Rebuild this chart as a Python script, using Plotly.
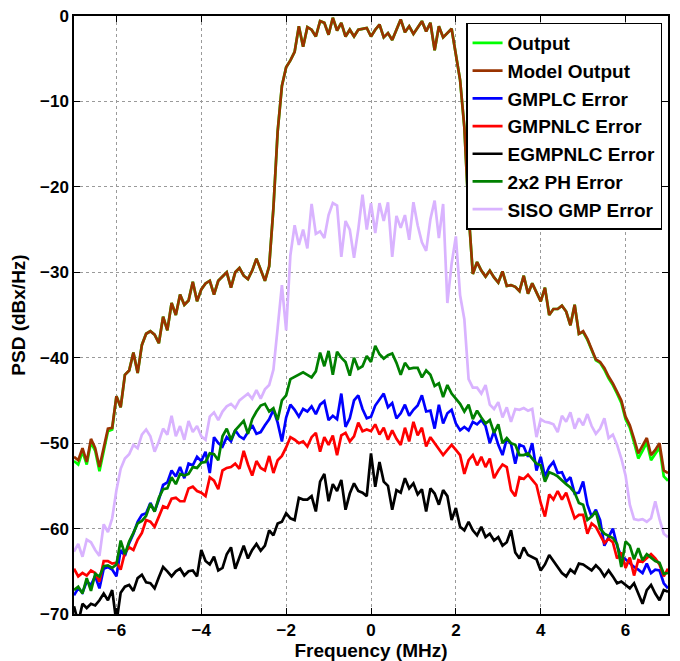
import numpy as np
import plotly.graph_objects as go

FREQ = np.round(np.linspace(-7, 7, 141), 2)

OUTPUT = [
    -52.1, -52.5, -51.0, -52.5, -49.9, -50.9, -53.3, -51.0, -48.6, -48.4,
    -44.5, -45.8, -42.0, -41.5, -39.4, -41.8, -38.5, -37.2, -36.9, -37.3,
    -38.3, -35.2, -36.8, -33.6, -35.0, -32.6, -33.8, -33.3, -31.1, -33.4,
    -32.0, -31.3, -31.0, -32.6, -31.0, -30.5, -30.0, -31.8, -30.0, -29.5,
    -30.4, -30.8, -29.8, -28.4, -29.7, -31.0, -29.3, -22.5, -13.5, -8.2,
    -6.0, -5.2, -4.2, -1.2, -3.6, -1.3, -1.6, -2.4, -0.6, -0.8,
    -2.2, -0.2, -1.7, -0.8, -2.4, -1.6, -2.4, -1.6, -1.5, -1.4,
    -2.4, -1.6, -1.0, -2.5, -2.0, -2.8, -1.6, -0.4, -1.9, -1.2,
    -2.1, -1.3, -0.6, -1.8, -0.8, -4.0, -1.2, -2.5, -2.0, -1.5,
    -4.5, -7.5, -13.0, -23.0, -30.2, -28.8, -29.8, -30.5, -29.8, -30.6,
    -31.2, -29.9, -31.6, -31.5, -31.7, -32.2, -30.4, -32.5, -31.3, -32.4,
    -33.4, -31.8, -35.0, -34.3, -34.3, -33.9, -34.6, -36.2, -33.8, -37.2,
    -37.0, -37.9, -39.0, -40.3, -40.6, -41.4, -42.4, -43.2, -44.2, -45.3,
    -47.2, -48.2, -49.9, -51.8, -50.9, -49.9, -52.0, -51.2, -50.5, -53.9,
    -54.4,
]

MODEL_OUTPUT = [
    -51.6, -52.0, -50.6, -52.2, -49.5, -50.6, -52.8, -50.6, -48.3, -48.2,
    -44.5, -45.8, -42.0, -41.5, -39.4, -41.8, -38.5, -37.2, -36.9, -37.3,
    -38.3, -35.2, -36.8, -33.6, -35.0, -32.6, -33.8, -33.3, -31.1, -33.4,
    -32.0, -31.3, -31.0, -32.6, -31.0, -30.5, -30.0, -31.8, -30.0, -29.5,
    -30.4, -30.8, -29.8, -28.4, -29.7, -31.0, -29.3, -22.5, -13.5, -8.2,
    -6.0, -5.2, -4.2, -1.2, -3.6, -1.3, -1.6, -2.4, -0.6, -0.8,
    -2.2, -0.2, -1.7, -0.8, -2.4, -1.6, -2.4, -1.6, -1.5, -1.4,
    -2.4, -1.6, -1.0, -2.5, -2.0, -2.8, -1.6, -0.4, -1.9, -1.2,
    -2.1, -1.3, -0.6, -1.8, -0.8, -4.0, -1.2, -2.5, -2.0, -1.5,
    -4.5, -7.5, -13.0, -23.0, -30.2, -28.8, -29.8, -30.5, -29.8, -30.6,
    -31.2, -29.9, -31.6, -31.5, -31.7, -32.2, -30.4, -32.5, -31.3, -32.4,
    -33.4, -31.8, -35.0, -34.3, -34.3, -33.9, -34.6, -36.2, -33.8, -37.2,
    -36.9, -37.8, -38.9, -40.2, -40.5, -41.2, -42.2, -43.0, -44.0, -45.0,
    -46.9, -47.9, -49.5, -51.2, -50.3, -49.4, -51.4, -50.8, -50.0, -53.2,
    -53.5,
]

GMPLC_ERR = [
    -67.8, -67.0, -67.5, -66.2, -66.6, -65.6, -67.0, -64.7, -64.5, -64.8,
    -65.6, -62.5, -63.2, -61.7, -60.6, -59.2, -58.4, -58.2, -57.0, -58.0,
    -56.6, -54.9, -54.6, -53.2, -53.9, -52.8, -54.1, -52.4, -52.6, -51.6,
    -52.1, -51.0, -53.5, -49.3, -50.0, -50.4, -49.3, -49.8, -48.5, -49.2,
    -49.5, -48.7, -47.9, -48.9, -48.7, -47.9, -47.2, -46.1, -47.6, -49.8,
    -47.0, -45.5, -46.1, -46.9, -46.0, -46.3, -45.7, -46.6, -45.5, -45.1,
    -47.3, -46.8, -47.2, -44.2, -48.1, -47.1, -45.0, -44.4, -46.0, -47.1,
    -46.9, -45.6, -44.9, -44.2, -45.8, -45.3, -47.1, -46.5, -45.5, -46.8,
    -46.1, -45.6, -44.4, -46.3, -46.2, -48.3, -45.5, -47.7, -46.5, -46.1,
    -47.7, -48.5, -48.1, -48.5, -47.5, -47.8, -47.3, -48.0, -50.0, -48.6,
    -50.2, -51.4, -49.5, -50.1, -52.4, -50.2, -50.4, -51.6, -50.0, -53.2,
    -51.6, -53.9, -52.8, -52.2, -53.5, -53.4, -54.5, -54.0, -55.9, -55.8,
    -54.5, -57.2, -58.6, -57.8, -59.0, -62.0, -61.0, -60.0, -62.0, -63.3,
    -63.6, -64.1, -64.5, -64.8, -65.2, -64.1, -65.2, -64.8, -64.9, -66.4,
    -67.0,
]

GMPNLC_ERR = [
    -64.7, -65.6, -65.2, -65.5, -64.9, -65.2, -66.2, -63.8, -63.8, -64.1,
    -64.0, -64.8, -62.8, -62.2, -62.5, -61.3, -60.5, -59.0, -59.2, -59.8,
    -58.6, -57.4, -57.6, -56.5, -56.4, -56.8, -56.8, -55.3, -55.1, -55.6,
    -55.8, -56.2, -54.0, -54.4, -55.4, -53.2, -52.9, -52.8, -52.4, -53.0,
    -50.9, -52.5, -53.8, -52.1, -52.9, -53.2, -51.5, -53.5, -52.0, -51.5,
    -50.5, -49.3, -49.6, -50.0, -49.8, -50.4, -49.3, -48.8, -51.0, -49.3,
    -50.2, -49.1, -51.4, -49.1, -48.8, -49.8, -49.2, -47.6, -48.6, -48.4,
    -48.6, -47.8, -49.0, -48.2, -49.6, -48.5, -49.5, -50.2, -48.2, -49.8,
    -47.5, -49.1, -48.2, -50.4, -49.3, -50.0, -50.8, -51.4, -50.8, -50.2,
    -50.8, -51.4, -53.6, -52.0, -51.4, -52.6, -51.6, -52.8, -51.8, -54.1,
    -53.2, -52.5, -52.8, -55.5, -56.2, -54.0, -54.2, -53.7, -54.3, -54.9,
    -57.0, -58.6, -56.0, -56.6, -55.6, -56.6, -55.8, -57.2, -58.8, -58.4,
    -58.4, -60.6, -59.4, -59.8, -60.8, -61.7, -61.2, -61.6, -63.5, -62.8,
    -64.6, -63.4, -65.5, -63.7, -63.9, -63.5, -63.0, -63.5, -64.2, -65.6,
    -64.7,
]

EGMPNLC_ERR = [
    -69.1, -71.0, -68.8, -69.3, -68.8, -69.0, -68.4, -67.6, -68.4, -67.2,
    -71.0, -67.5, -66.8, -66.6, -67.3, -65.8, -65.4, -66.3, -66.4, -67.0,
    -65.7, -64.5, -65.0, -65.6, -65.0, -64.7, -65.5, -65.0, -64.9, -65.6,
    -62.5, -63.8, -64.2, -63.3, -64.9, -64.6, -63.0, -62.2, -64.7, -63.4,
    -62.0, -63.5, -62.5, -61.8, -62.6, -62.0, -60.2, -60.8, -59.4, -59.2,
    -58.2, -58.8, -59.0, -56.4, -56.6, -56.6, -56.2, -58.0, -54.5, -53.6,
    -56.8, -54.8, -55.6, -54.3, -57.8, -55.9, -54.7, -55.6, -55.8, -56.2,
    -51.2, -55.1, -52.2, -54.5, -55.0, -57.8, -55.5, -55.8, -54.1, -55.3,
    -54.7, -56.0, -55.4, -58.0, -55.3, -55.9, -57.2, -55.5, -56.2, -59.0,
    -57.6, -59.8, -60.2, -59.2, -60.2, -60.8, -59.8, -61.0, -60.6, -61.4,
    -61.0, -62.0, -61.6, -60.2, -62.8, -63.5, -62.2, -63.1, -63.4, -63.6,
    -64.9, -64.2, -63.1, -63.8, -64.5, -65.2, -65.6, -64.8, -65.2, -64.1,
    -64.2, -64.5, -64.9, -64.3, -64.8, -65.6, -64.9, -65.6, -66.4, -66.2,
    -66.6, -67.0, -66.4, -67.6, -68.8, -67.2, -66.6, -67.6, -68.4, -67.2,
    -67.4,
]

PH2X2_ERR = [
    -67.2, -66.8, -67.6, -65.8, -67.3, -65.3, -65.6, -64.4, -64.3, -64.6,
    -64.2, -61.4, -63.0, -61.5, -60.5, -59.4, -59.1, -58.5, -57.1, -58.0,
    -56.4, -55.4, -55.3, -54.0, -54.8, -53.6, -53.8, -53.6, -52.8, -52.9,
    -52.3, -52.2, -51.2, -51.3, -52.0, -49.2, -48.3, -49.6, -48.5, -48.0,
    -47.4, -48.9, -47.2, -46.3, -45.6, -45.4, -46.3, -45.9, -47.3, -45.0,
    -44.4, -42.5, -42.2, -41.9, -41.7, -42.0, -42.3, -41.6, -39.4, -41.0,
    -39.2, -42.0, -39.3, -40.0, -40.5, -42.1, -40.0, -41.3, -41.0, -39.8,
    -40.5, -38.6, -39.6, -40.1, -39.7, -39.5, -40.6, -42.0, -40.6, -41.3,
    -41.2, -41.2, -42.3, -41.5, -42.0, -43.3, -43.0, -44.6, -43.2, -44.2,
    -44.8, -45.4, -46.3, -45.5, -47.2, -46.2, -47.0, -47.7, -47.3, -48.8,
    -47.8, -50.0, -49.4, -50.0, -50.2, -51.4, -51.4, -51.2, -51.8, -52.4,
    -52.6, -54.5, -53.4, -53.6, -53.9, -54.4, -54.8, -55.2, -55.8, -57.0,
    -57.2, -59.0, -58.6, -58.0, -60.0, -60.6, -60.9, -61.1, -61.8, -64.5,
    -61.5, -62.0, -63.6, -62.3, -63.7, -63.0, -63.4, -63.8, -64.0, -65.3,
    -65.2,
]

SISO_GMP_ERR = [
    -62.7, -61.8, -63.3, -61.3, -61.6, -62.5, -63.2, -59.5, -60.4, -58.8,
    -55.5, -53.0, -51.8, -51.3, -50.2, -50.6, -49.0, -48.4, -49.2, -51.0,
    -49.8, -48.3, -49.0, -46.8, -49.2, -48.0, -49.6, -47.4, -48.7, -48.0,
    -49.2, -49.6, -46.9, -46.4, -47.3, -46.3, -45.7, -45.4, -45.9, -45.0,
    -44.6, -44.2, -44.8, -43.8, -44.8, -43.7, -43.2, -41.4, -36.5, -31.5,
    -36.8, -28.0, -24.5, -26.8, -25.0, -27.2, -22.0, -25.5, -25.2, -26.0,
    -23.3, -21.9, -22.2, -28.2, -24.0, -25.0, -28.3, -25.0, -20.9, -25.0,
    -21.9, -25.4, -21.9, -24.0, -21.8, -28.2, -23.4, -24.8, -23.3, -26.2,
    -21.8, -24.5, -26.5, -27.5, -23.8, -21.6, -26.0, -22.0, -33.6, -29.0,
    -25.8, -32.7, -35.5, -42.5, -43.5, -43.5, -44.2, -43.2, -45.5, -46.0,
    -45.2, -47.0, -45.8, -47.5, -46.0, -46.1, -45.9, -46.2, -46.0, -49.3,
    -47.2, -47.5, -47.6, -47.8, -48.7, -46.8, -47.5, -46.4, -48.3, -47.1,
    -47.9, -46.6, -48.0, -48.9, -48.3, -47.1, -49.4, -49.0, -50.2, -51.8,
    -53.8, -57.2, -58.9, -59.0, -58.9, -59.2, -58.8, -56.8, -58.9, -60.6,
    -61.0,
]

SERIES = [
    ("Output", OUTPUT, "#00ff00"),
    ("Model Output", MODEL_OUTPUT, "#993300"),
    ("GMPLC Error", GMPLC_ERR, "#0000ff"),
    ("GMPNLC Error", GMPNLC_ERR, "#ff0000"),
    ("EGMPNLC Error", EGMPNLC_ERR, "#000000"),
    ("2x2 PH Error", PH2X2_ERR, "#008000"),
    ("SISO GMP Error", SISO_GMP_ERR, "#d9b3ff"),
]

X_TICKS = [-6, -4, -2, 0, 2, 4, 6]
Y_TICKS = [-70, -60, -50, -40, -30, -20, -10, 0]

fig = go.Figure()
for name, vals, color in SERIES:
    fig.add_trace(go.Scatter(x=FREQ, y=vals, mode="lines", name=name,
                             line=dict(color=color, width=2.7)))

axis_common = dict(
    showline=True, linecolor="black", linewidth=1.5, mirror="allticks",
    ticks="inside", ticklen=6, tickwidth=1, tickcolor="black",
    showgrid=True, gridcolor="#9a9a9a", griddash="dot", gridwidth=1,
    zeroline=False, tickfont=dict(size=17, color="black"), automargin=False,
)

fig.update_layout(
    width=680, height=661,
    margin=dict(l=74, r=12, t=16, b=47),
    paper_bgcolor="white", plot_bgcolor="white",
    font=dict(family="Liberation Sans, Arial, sans-serif", color="black", weight="bold"),
    xaxis=dict(range=[-7, 7], tickvals=X_TICKS,
               title=dict(text="Frequency (MHz)", font=dict(size=19), standoff=7),
               **axis_common),
    yaxis=dict(range=[-70, 0], tickvals=Y_TICKS,
               title=dict(text="PSD (dBx/Hz)", font=dict(size=19), standoff=9),
               **axis_common),
    legend=dict(x=0.99, y=0.989, xanchor="right", yanchor="top",
                bgcolor="white", bordercolor="black", borderwidth=1.5,
                font=dict(size=19, color="black"), tracegroupgap=0),
    showlegend=True,
)

fig.write_html("out.html", config={"displayModeBar": False},
               post_script="document.body.style.margin='0px';document.body.style.overflow='hidden';")
